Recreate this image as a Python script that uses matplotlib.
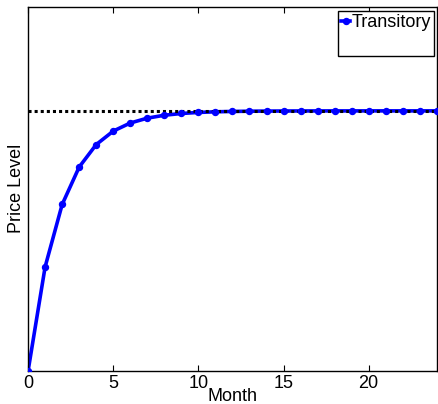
import matplotlib.pyplot as plt
from matplotlib.lines import Line2D

plt.rcParams['font.family'] = ['Liberation Sans', 'DejaVu Sans']

# price response to a transitory shock, by month
months = list(range(25))
price = [0.0, 0.4, 0.64, 0.784, 0.8704, 0.9222, 0.9533, 0.972, 0.9832, 0.9899,
         0.994, 0.9964, 0.9978, 0.9987, 0.9992, 0.9995, 0.9997, 0.9998, 0.9999,
         0.9999, 1.0, 1.0, 1.0, 1.0, 1.0]
steady = 1.0

fig = plt.figure(figsize=(4.39, 4.04), dpi=100)
ax = fig.add_axes([0.064, 0.082, 0.931, 0.901])

ax.plot(months, price, color='blue', linewidth=2.6, zorder=2)
ax.axhline(steady, color='black', linestyle=(0, (1, 1)), linewidth=2.2, zorder=3)
ax.plot(months, price, marker='o', markersize=4.3, markerfacecolor='blue',
        markeredgecolor='blue', linestyle='none', zorder=4)

ax.set_xlim(0, 24)
ax.set_ylim(0, 1.4)
ax.set_xticks([0, 5, 10, 15, 20])
ax.set_yticks([])
ax.tick_params(axis='x', direction='in', length=4, top=True, labelsize=13, pad=3)
for s in ax.spines.values():
    s.set_linewidth(1.0)

ax.set_xlabel('Month', fontsize=13, labelpad=-3)
ax.set_ylabel('Price Level', fontsize=13, labelpad=2)

handles = [Line2D([], [], color='blue', linewidth=2.6, marker='o', markersize=4.3),
           Line2D([], [], linestyle='none')]
leg = ax.legend(handles, ['Transitory', ' '], loc='upper right',
                bbox_to_anchor=(1.0, 0.995), fontsize=13, handlelength=0.5,
                handletextpad=0.1, borderpad=0.15, labelspacing=0.3,
                fancybox=False, framealpha=1, borderaxespad=0.15)
leg.get_frame().set_edgecolor('black')
leg.get_frame().set_linewidth(1.0)

fig.savefig('out.png', dpi=100)
